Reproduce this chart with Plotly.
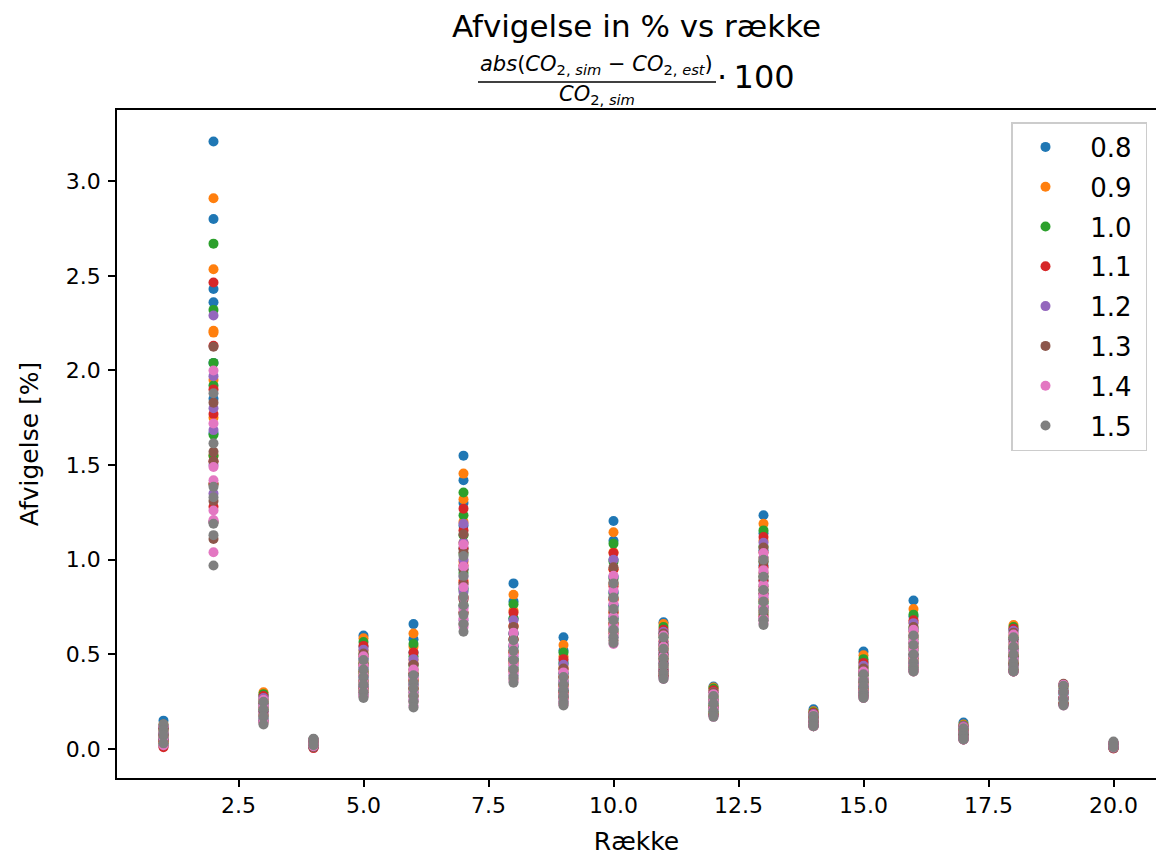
import plotly.graph_objects as go

rows = list(range(1, 21))
series_names = ["0.8", "0.9", "1.0", "1.1", "1.2", "1.3", "1.4", "1.5"]
colors = ["#1f77b4", "#ff7f0e", "#2ca02c", "#d62728", "#9467bd", "#8c564b", "#e377c2", "#7f7f7f"]
x_ticks = [2.5, 5.0, 7.5, 10.0, 12.5, 15.0, 17.5, 20.0]
y_ticks = [0.0, 0.5, 1.0, 1.5, 2.0, 2.5, 3.0]

v08 = [
    [0.15, 0.11, 0.08, 0.05],
    [3.21, 2.80, 2.43, 2.36, 2.04, 1.85, 1.67],
    [0.28, 0.24, 0.20, 0.16],
    [0.05, 0.03, 0.01],
    [0.60, 0.54, 0.48, 0.43, 0.38, 0.33],
    [0.66, 0.58, 0.51, 0.45, 0.39, 0.34],
    [1.55, 1.42, 1.30, 1.18, 1.06, 0.95, 0.85],
    [0.875, 0.78, 0.69, 0.61, 0.54, 0.47],
    [0.59, 0.52, 0.46, 0.40, 0.35, 0.31],
    [1.205, 1.10, 1.00, 0.91, 0.83, 0.76, 0.69],
    [0.67, 0.61, 0.55, 0.50, 0.45, 0.41],
    [0.33, 0.28, 0.24, 0.20],
    [1.235, 1.14, 1.05, 0.97, 0.89, 0.82, 0.75],
    [0.21, 0.18, 0.15, 0.13],
    [0.515, 0.46, 0.41, 0.37, 0.33, 0.30],
    [0.785, 0.70, 0.63, 0.56, 0.50, 0.45],
    [0.14, 0.11, 0.08, 0.06],
    [0.63, 0.58, 0.53, 0.49, 0.45, 0.42],
    [0.32, 0.29, 0.26, 0.24],
    [0.03, 0.015, 0.005],
]
v09 = [
    [0.13, 0.10, 0.07, 0.04],
    [2.91, 2.535, 2.21, 2.20, 1.95, 1.75, 1.55],
    [0.30, 0.26, 0.22, 0.18],
    [0.05, 0.03, 0.01],
    [0.585, 0.52, 0.46, 0.41, 0.36, 0.32],
    [0.61, 0.54, 0.47, 0.42, 0.37, 0.32],
    [1.455, 1.32, 1.20, 1.09, 0.99, 0.89, 0.80],
    [0.815, 0.73, 0.65, 0.58, 0.51, 0.45],
    [0.55, 0.49, 0.43, 0.38, 0.33, 0.29],
    [1.145, 1.04, 0.95, 0.87, 0.79, 0.72, 0.66],
    [0.66, 0.60, 0.54, 0.49, 0.44, 0.40],
    [0.325, 0.28, 0.23, 0.19],
    [1.19, 1.10, 1.01, 0.93, 0.86, 0.79, 0.73],
    [0.20, 0.17, 0.15, 0.13],
    [0.495, 0.44, 0.40, 0.36, 0.32, 0.29],
    [0.74, 0.67, 0.60, 0.54, 0.48, 0.44],
    [0.13, 0.10, 0.08, 0.06],
    [0.655, 0.60, 0.55, 0.50, 0.46, 0.42],
    [0.33, 0.30, 0.27, 0.24],
    [0.03, 0.015, 0.005],
]
v10 = [
    [0.12, 0.09, 0.06, 0.03],
    [2.67, 2.32, 2.04, 1.92, 1.66, 1.55, 1.40],
    [0.29, 0.25, 0.21, 0.17],
    [0.05, 0.03, 0.01],
    [0.565, 0.50, 0.45, 0.40, 0.35, 0.31],
    [0.555, 0.49, 0.44, 0.39, 0.34, 0.30],
    [1.355, 1.235, 1.13, 1.03, 0.93, 0.84, 0.76],
    [0.765, 0.69, 0.61, 0.54, 0.48, 0.43],
    [0.51, 0.45, 0.40, 0.36, 0.31, 0.28],
    [1.085, 0.99, 0.90, 0.82, 0.75, 0.69, 0.63],
    [0.645, 0.59, 0.53, 0.48, 0.43, 0.39],
    [0.32, 0.27, 0.23, 0.19],
    [1.155, 1.07, 0.99, 0.91, 0.84, 0.77, 0.71],
    [0.195, 0.17, 0.145, 0.125],
    [0.475, 0.43, 0.39, 0.35, 0.31, 0.29],
    [0.71, 0.64, 0.58, 0.52, 0.47, 0.43],
    [0.125, 0.10, 0.075, 0.055],
    [0.645, 0.59, 0.54, 0.49, 0.45, 0.42],
    [0.335, 0.30, 0.27, 0.24],
    [0.03, 0.015, 0.005],
]
v11 = [
    [0.11, 0.07, 0.04, 0.01],
    [2.465, 2.13, 1.90, 1.77, 1.52, 1.40, 1.28],
    [0.28, 0.24, 0.20, 0.15],
    [0.04, 0.02, 0.005],
    [0.545, 0.49, 0.44, 0.39, 0.34, 0.30],
    [0.51, 0.45, 0.40, 0.36, 0.32, 0.28],
    [1.27, 1.155, 1.06, 0.97, 0.88, 0.80, 0.72],
    [0.72, 0.65, 0.58, 0.51, 0.46, 0.41],
    [0.475, 0.42, 0.38, 0.34, 0.30, 0.27],
    [1.035, 0.95, 0.86, 0.79, 0.72, 0.66, 0.61],
    [0.63, 0.57, 0.52, 0.47, 0.42, 0.39],
    [0.31, 0.26, 0.22, 0.18],
    [1.12, 1.04, 0.96, 0.89, 0.82, 0.75, 0.70],
    [0.19, 0.165, 0.14, 0.12],
    [0.455, 0.41, 0.37, 0.34, 0.31, 0.28],
    [0.68, 0.62, 0.56, 0.50, 0.46, 0.42],
    [0.12, 0.095, 0.07, 0.05],
    [0.635, 0.58, 0.53, 0.49, 0.45, 0.41],
    [0.34, 0.30, 0.27, 0.24],
    [0.03, 0.015, 0.003],
]
v12 = [
    [0.12, 0.08, 0.05, 0.02],
    [2.29, 1.97, 1.80, 1.685, 1.50, 1.35, 1.20],
    [0.27, 0.23, 0.19, 0.15],
    [0.05, 0.03, 0.01],
    [0.525, 0.47, 0.42, 0.37, 0.33, 0.29],
    [0.475, 0.42, 0.38, 0.34, 0.30, 0.26],
    [1.19, 1.09, 1.00, 0.91, 0.83, 0.75, 0.68],
    [0.68, 0.61, 0.55, 0.49, 0.44, 0.39],
    [0.445, 0.40, 0.36, 0.32, 0.28, 0.25],
    [1.00, 0.91, 0.83, 0.76, 0.70, 0.64, 0.59],
    [0.62, 0.56, 0.51, 0.46, 0.42, 0.38],
    [0.30, 0.26, 0.22, 0.18],
    [1.09, 1.01, 0.93, 0.86, 0.80, 0.74, 0.69],
    [0.185, 0.16, 0.14, 0.12],
    [0.44, 0.40, 0.36, 0.33, 0.30, 0.28],
    [0.665, 0.60, 0.54, 0.49, 0.45, 0.42],
    [0.12, 0.09, 0.07, 0.05],
    [0.625, 0.57, 0.52, 0.48, 0.44, 0.41],
    [0.34, 0.30, 0.27, 0.235],
    [0.03, 0.015, 0.005],
]
v13 = [
    [0.11, 0.08, 0.05, 0.02],
    [2.125, 1.83, 1.57, 1.52, 1.31, 1.20, 1.11],
    [0.26, 0.22, 0.18, 0.14],
    [0.05, 0.03, 0.01],
    [0.505, 0.45, 0.41, 0.36, 0.32, 0.28],
    [0.445, 0.40, 0.36, 0.32, 0.28, 0.25],
    [1.135, 1.04, 0.95, 0.87, 0.79, 0.72, 0.66],
    [0.645, 0.58, 0.52, 0.47, 0.42, 0.37],
    [0.425, 0.38, 0.34, 0.30, 0.27, 0.24],
    [0.96, 0.88, 0.80, 0.73, 0.67, 0.62, 0.575],
    [0.61, 0.55, 0.50, 0.45, 0.41, 0.38],
    [0.30, 0.25, 0.21, 0.18],
    [1.065, 0.99, 0.91, 0.84, 0.78, 0.72, 0.68],
    [0.18, 0.16, 0.14, 0.12],
    [0.425, 0.39, 0.35, 0.32, 0.29, 0.27],
    [0.645, 0.59, 0.53, 0.48, 0.44, 0.41],
    [0.115, 0.09, 0.07, 0.05],
    [0.615, 0.56, 0.51, 0.47, 0.44, 0.41],
    [0.345, 0.31, 0.27, 0.235],
    [0.03, 0.015, 0.005],
]
v14 = [
    [0.12, 0.09, 0.06, 0.02],
    [2.00, 1.72, 1.49, 1.42, 1.26, 1.21, 1.04],
    [0.26, 0.22, 0.17, 0.14],
    [0.05, 0.03, 0.015],
    [0.49, 0.44, 0.39, 0.35, 0.31, 0.28],
    [0.42, 0.38, 0.34, 0.30, 0.26, 0.23],
    [1.08, 0.965, 0.855, 0.80, 0.74, 0.69, 0.645],
    [0.615, 0.55, 0.50, 0.45, 0.40, 0.36],
    [0.405, 0.36, 0.32, 0.29, 0.26, 0.235],
    [0.915, 0.84, 0.77, 0.70, 0.65, 0.60, 0.555],
    [0.60, 0.54, 0.49, 0.44, 0.40, 0.37],
    [0.29, 0.25, 0.21, 0.17],
    [1.035, 0.945, 0.87, 0.81, 0.75, 0.69, 0.665],
    [0.18, 0.155, 0.135, 0.12],
    [0.41, 0.37, 0.34, 0.31, 0.29, 0.27],
    [0.63, 0.57, 0.52, 0.47, 0.44, 0.41],
    [0.115, 0.09, 0.065, 0.05],
    [0.605, 0.55, 0.51, 0.47, 0.43, 0.41],
    [0.34, 0.30, 0.265, 0.23],
    [0.035, 0.02, 0.008],
]
v15 = [
    [0.13, 0.10, 0.07, 0.03],
    [1.88, 1.615, 1.385, 1.33, 1.19, 1.13, 0.97],
    [0.25, 0.21, 0.17, 0.13],
    [0.055, 0.04, 0.02],
    [0.47, 0.42, 0.38, 0.34, 0.30, 0.27],
    [0.39, 0.35, 0.32, 0.28, 0.25, 0.22],
    [1.02, 0.915, 0.805, 0.76, 0.71, 0.66, 0.62],
    [0.575, 0.52, 0.47, 0.42, 0.38, 0.35],
    [0.38, 0.34, 0.31, 0.28, 0.25, 0.23],
    [0.875, 0.80, 0.74, 0.68, 0.63, 0.59, 0.56],
    [0.59, 0.53, 0.48, 0.44, 0.40, 0.37],
    [0.28, 0.24, 0.20, 0.17],
    [1.00, 0.91, 0.84, 0.78, 0.73, 0.68, 0.655],
    [0.175, 0.15, 0.13, 0.12],
    [0.395, 0.36, 0.33, 0.30, 0.28, 0.27],
    [0.60, 0.55, 0.50, 0.46, 0.43, 0.41],
    [0.11, 0.085, 0.065, 0.05],
    [0.59, 0.54, 0.50, 0.46, 0.43, 0.41],
    [0.335, 0.30, 0.26, 0.23],
    [0.04, 0.025, 0.01],
]
all_series = [v08, v09, v10, v11, v12, v13, v14, v15]

# ---- layout geometry (pixels) ----
W, H = 1156, 856
L, R, T, B = 117, 1156, 110, 778
FONT = "DejaVu Sans"
NBSP = "\u00a0"


def px(xp):
    return (xp - L) / (R - L)


def py(yp):
    return (B - yp) / (B - T)


fig = go.Figure()
for name, col, vals in zip(series_names, colors, all_series):
    xs, ys = [], []
    for r, col_vals in zip(rows, vals):
        xs.extend([r] * len(col_vals))
        ys.extend(col_vals)
    fig.add_trace(go.Scatter(
        x=xs, y=ys, mode="markers", name=NBSP * 3 + name + NBSP, legendgroup=name,
        marker=dict(color=col, size=10, line=dict(width=0)),
    ))

fig.update_layout(
    width=W, height=H,
    margin=dict(l=L, r=W - R, t=T, b=H - B, autoexpand=False),
    paper_bgcolor="white", plot_bgcolor="white",
    font=dict(family=FONT, size=22, color="black"),
    showlegend=True,
    legend=dict(
        x=px(1147), y=py(122), xanchor="right", yanchor="top",
        bgcolor="rgba(255,255,255,0.8)", bordercolor="#cccccc", borderwidth=1.5,
        font=dict(family=FONT, size=26, color="black"),
        tracegroupgap=3, traceorder="grouped", indentation=13,
    ),
    title=dict(
        text="Afvigelse in % vs række",
        x=0.5, xanchor="center", xref="paper",
        y=1 - 26 / H, yanchor="middle", yref="container",
        font=dict(family=FONT, size=31, color="black"),
    ),
)

fig.update_xaxes(
    range=[0.07, 20.85], tickvals=x_ticks, ticktext=[f"{v:.1f}" for v in x_ticks],
    showgrid=False, zeroline=False, showline=True, linecolor="black", linewidth=1.6,
    mirror=True, ticks="outside", ticklen=7, tickwidth=1.5, tickcolor="black",
    ticklabelstandoff=0, tickfont=dict(family=FONT, size=22),
    title=dict(text="Række", standoff=37, font=dict(family=FONT, size=25)),
)
fig.update_yaxes(
    range=[-0.153, 3.376], tickvals=y_ticks, ticktext=[f"{v:.1f}" for v in y_ticks],
    showgrid=False, zeroline=False, showline=True, linecolor="black", linewidth=1.6,
    mirror=False, ticks="outside", ticklen=7, tickwidth=1.5, tickcolor="black",
    ticklabelstandoff=3, tickfont=dict(family=FONT, size=22),
    title=dict(text="Afvigelse [%]", standoff=20, font=dict(family=FONT, size=25)),
)

# subtitle: fraction abs(CO2,sim - CO2,est)/CO2,sim * 100
num = ("<i>abs</i>(<i>CO</i><sub>2, <i>sim</i></sub> − "
       "<i>CO</i><sub>2, <i>est</i></sub>)")
den = "<i>CO</i><sub>2, <i>sim</i></sub>"
fig.add_annotation(text=num, xref="paper", yref="paper", x=px(596), y=py(65),
                   xanchor="center", yanchor="middle", showarrow=False,
                   font=dict(family=FONT, size=21, color="black"))
fig.add_annotation(text=den, xref="paper", yref="paper", x=px(597), y=py(95),
                   xanchor="center", yanchor="middle", showarrow=False,
                   font=dict(family=FONT, size=21, color="black"))
fig.add_annotation(text="·\u2009100", xref="paper", yref="paper", x=px(715), y=py(77),
                   xanchor="left", yanchor="middle", showarrow=False,
                   font=dict(family=FONT, size=32, color="black"))
fig.add_shape(type="line", xref="paper", yref="paper",
              x0=px(478), x1=px(716), y0=py(82), y1=py(82),
              line=dict(color="black", width=1.5))

fig.write_html("out.html", config={"displayModeBar": False},
               post_script="document.body.style.margin='0px';")
